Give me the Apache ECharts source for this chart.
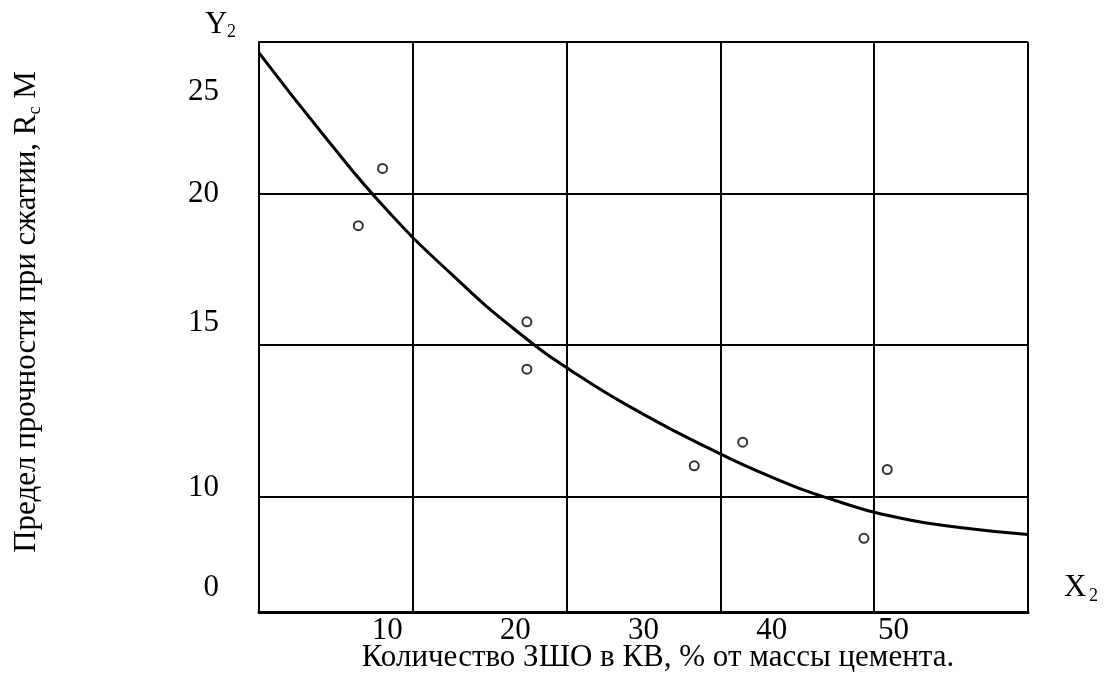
<!DOCTYPE html>
<html>
<head>
<meta charset="utf-8">
<script src="https://cdn.jsdelivr.net/npm/echarts@6/dist/echarts.min.js"></script>
<style>
html,body{margin:0;padding:0;background:#fff;}
#chart{width:1104px;height:682px;}
</style>
</head>
<body>
<div id="chart"></div>
<script>
// Axis ranges and grid
var xMin = 0, xMax = 60, xGridStep = 12;
var yMin = 6.2, yMax = 25;
var yGridVals = [10, 15, 20, 25];

// Tick labels (text) and where they sit on the axis scale
var xTickText = ['10', '20', '30', '40', '50'];
var xTickPos = [10, 20, 30, 40, 49.5];
var yTickText = ['0', '10', '15', '20', '25'];
var yTickPos = [6.98, 10.31, 15.74, 20, 23.35];

// Experimental points
var pointX = [7.75, 9.64, 20.9, 20.9, 33.96, 37.74, 47.2, 49.02];
var pointY = [18.94, 20.83, 15.77, 14.21, 11.02, 11.8, 8.63, 10.9];

// Fitted curve
var curveX = [0, 5, 10, 15, 20, 25, 30, 35, 40, 45, 50, 55, 60];
var curveY = [24.64, 21.95, 19.45, 17.35, 15.5, 13.98, 12.72, 11.62, 10.65, 9.87, 9.3, 8.97, 8.76];

var FONT = 'Liberation Serif';

function zip(a, b) { return a.map(function (v, i) { return [v, b[i]]; }); }

var chart = echarts.init(document.getElementById('chart'), null, {renderer: 'canvas'});
chart.setOption({
  animation: false,
  backgroundColor: '#fff',
  grid: {left: 259, right: 76, top: 42, bottom: 70, containLabel: false},
  xAxis: {
    type: 'value', min: xMin, max: xMax, interval: xGridStep,
    axisLine: {show: true, lineStyle: {color: '#000', width: 3}},
    axisTick: {show: false},
    splitLine: {show: true, lineStyle: {color: '#000', width: 2}},
    axisLabel: {
      customValues: xTickPos,
      formatter: function (v) { var i = xTickPos.indexOf(v); return i >= 0 ? xTickText[i] : ''; },
      color: '#000', fontFamily: FONT, fontSize: 31, margin: 3
    }
  },
  yAxis: {
    type: 'value', min: yMin, max: yMax,
    axisLine: {show: true, lineStyle: {color: '#000', width: 2}},
    axisTick: {show: false, customValues: yGridVals},
    splitLine: {show: true, lineStyle: {color: '#000', width: 2}},
    axisLabel: {
      customValues: yTickPos,
      formatter: function (v) { var i = yTickPos.indexOf(v); return i >= 0 ? yTickText[i] : ''; },
      color: '#000', fontFamily: FONT, fontSize: 31, margin: 40
    }
  },
  series: [
    {
      type: 'line', data: zip(curveX, curveY), smooth: true, symbol: 'none',
      lineStyle: {color: '#000', width: 3}, z: 3
    },
    {
      type: 'scatter', data: zip(pointX, pointY), symbol: 'circle', symbolSize: 9,
      itemStyle: {color: '#fff', borderColor: '#000', borderWidth: 2}, z: 4
    }
  ],
  graphic: [
    {type: 'text', left: 205, top: 9, style: {text: 'Y', fontFamily: FONT, fontSize: 31, fill: '#000'}},
    {type: 'text', left: 227, top: 23, style: {text: '2', fontFamily: FONT, fontSize: 18, fill: '#000'}},
    {type: 'text', left: 1064, top: 572, style: {text: 'X', fontFamily: FONT, fontSize: 31, fill: '#000'}},
    {type: 'text', left: 1089, top: 587, style: {text: '2', fontFamily: FONT, fontSize: 18, fill: '#000'}},
    {type: 'text', x: 658, y: 658, style: {text: 'Количество ЗШО в КВ, % от массы цемента.', fontFamily: FONT, fontSize: 31, fill: '#000', align: 'center', verticalAlign: 'middle'}},
    {type: 'text', x: 27, y: 312, rotation: Math.PI / 2,
      style: {
        text: '{a|Предел прочности при сжатии, R}{b|c}{a| M}',
        align: 'center', verticalAlign: 'middle', fill: '#000',
        rich: {
          a: {fontFamily: FONT, fontSize: 31, lineHeight: 34, fill: '#000'},
          b: {fontFamily: FONT, fontSize: 18, lineHeight: 34, verticalAlign: 'bottom', fill: '#000'}
        }
      }
    }
  ]
});
</script>
</body>
</html>
